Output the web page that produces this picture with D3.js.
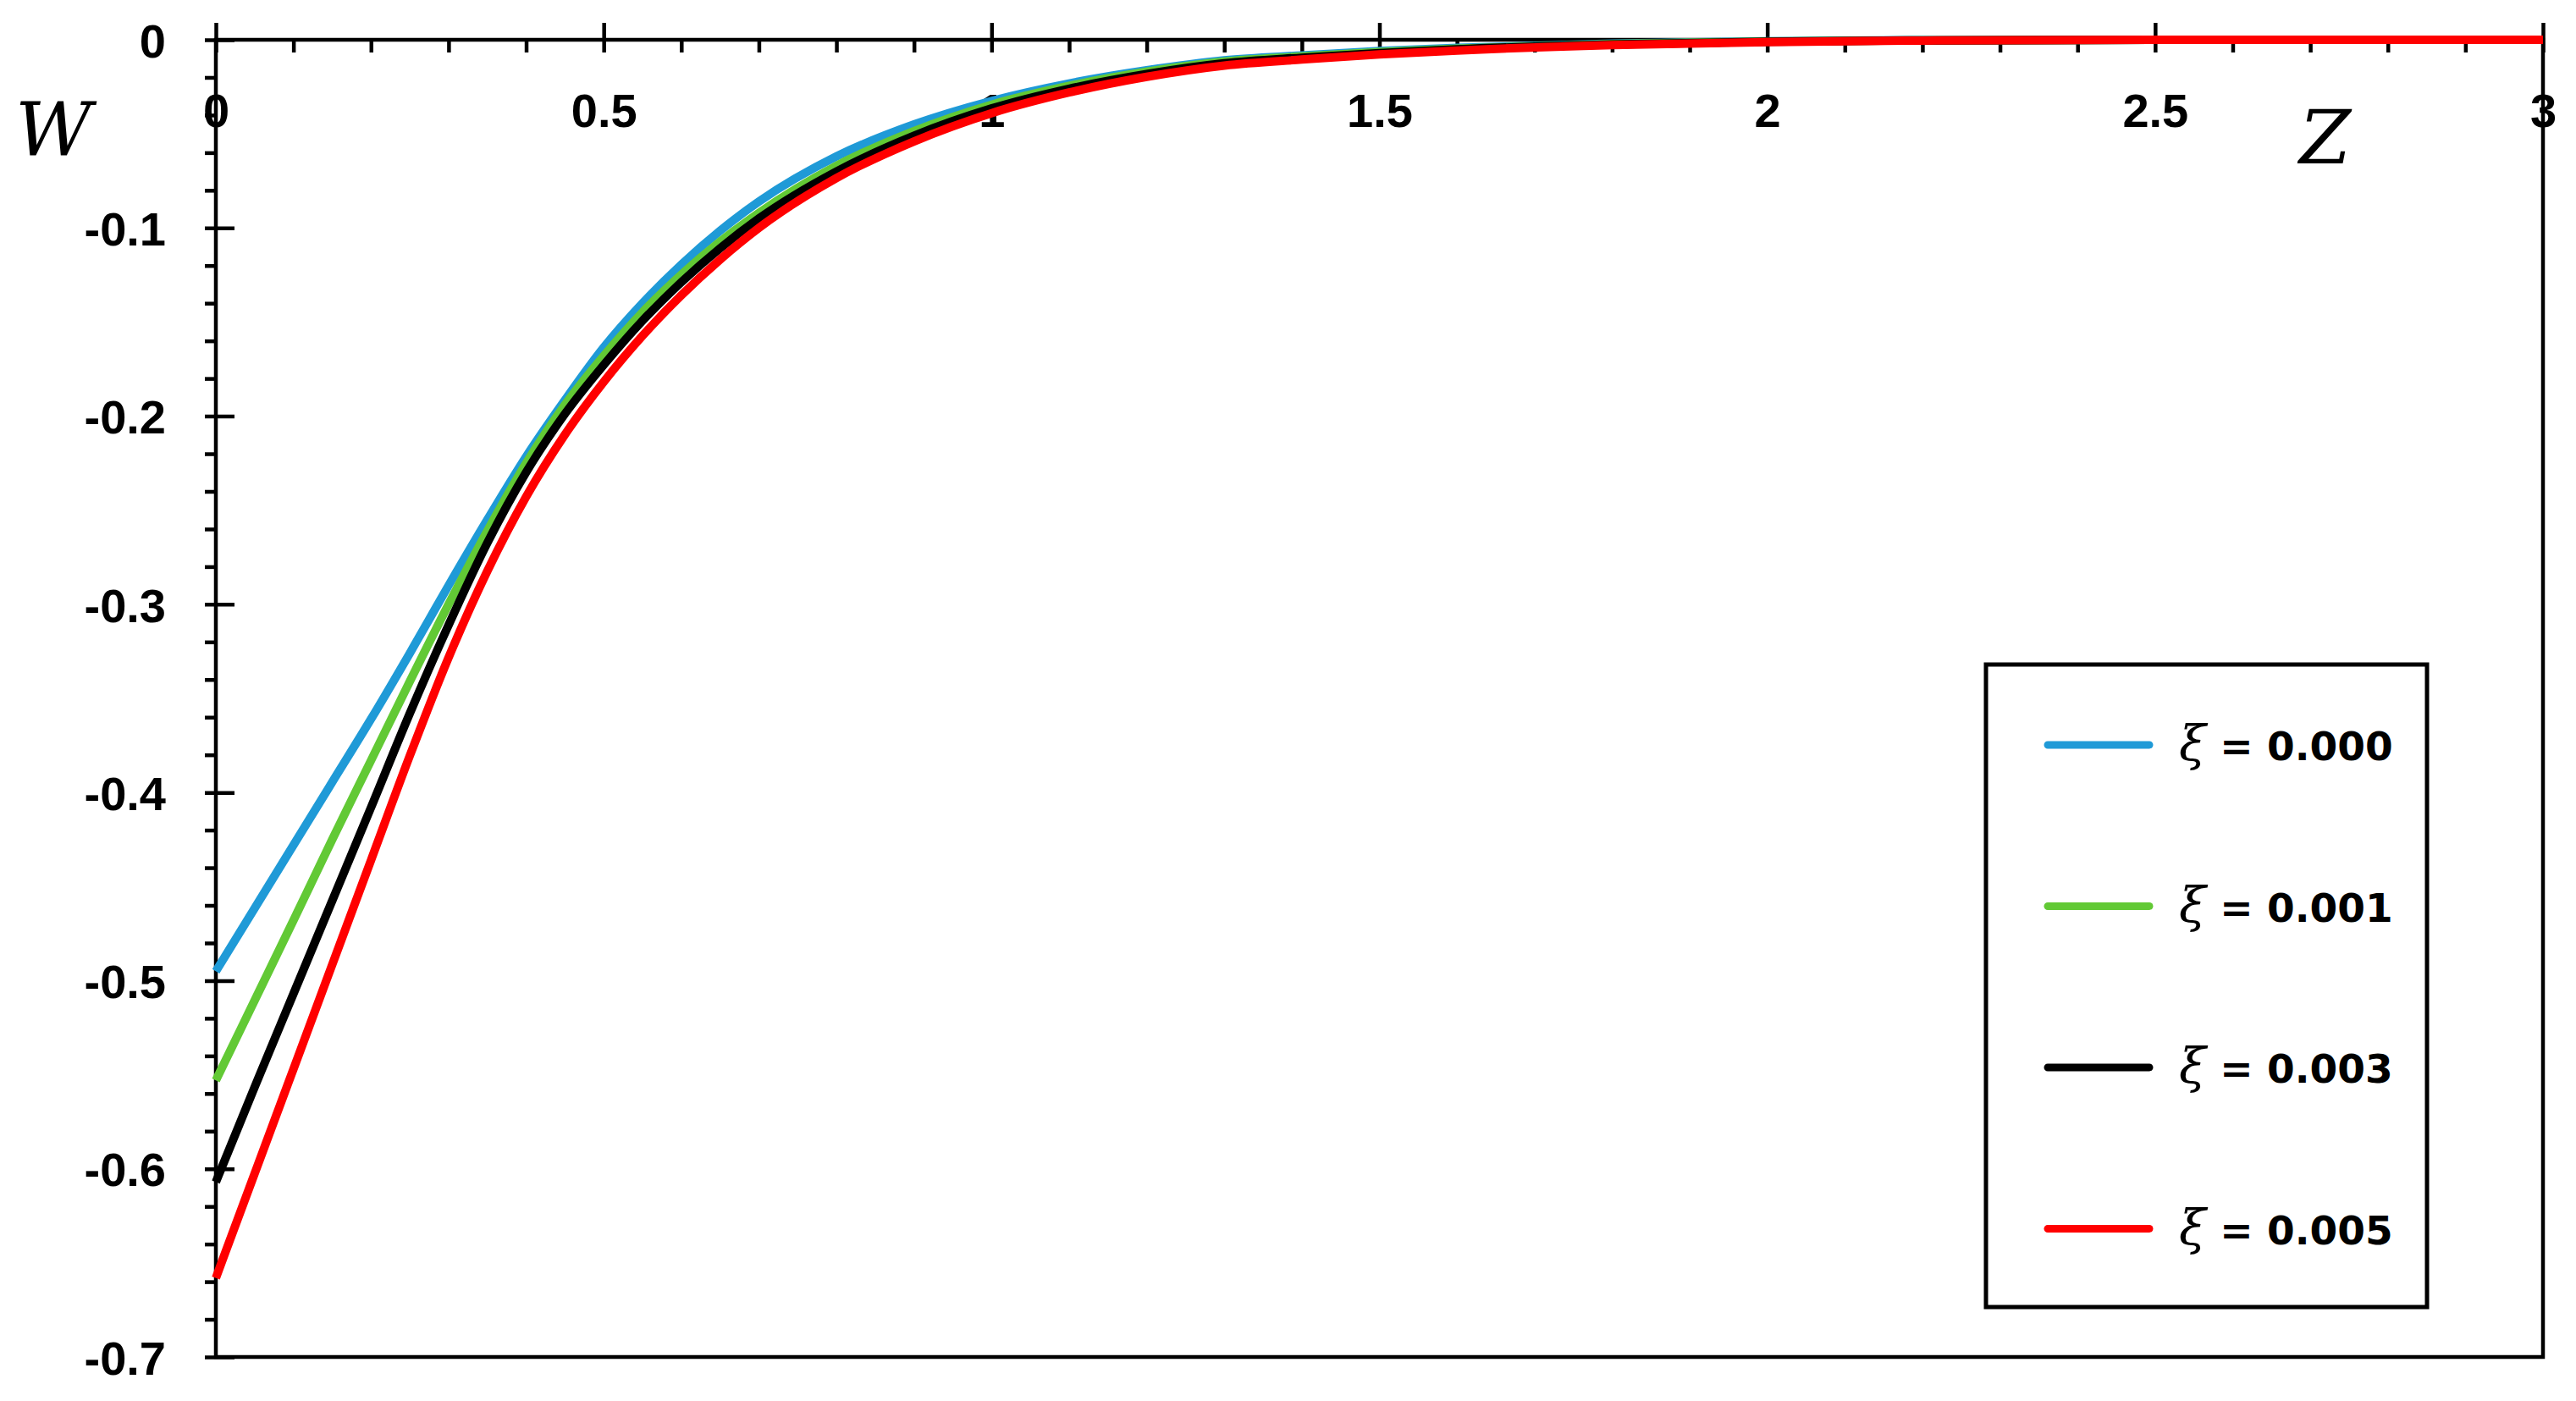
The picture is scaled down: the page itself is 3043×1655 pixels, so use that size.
<!DOCTYPE html>
<html>
<head>
<meta charset="utf-8">
<script src="https://cdn.jsdelivr.net/npm/d3@7"></script>
<style>
  html, body { margin: 0; padding: 0; background: #fff; }
  .tick-label { font-family: "Liberation Sans", Arial, sans-serif; font-weight: bold; font-size: 56px; fill: #000; }
  .axis-title { font-family: "DejaVu Serif", "Liberation Serif", serif; font-style: italic; font-size: 88px; fill: #000; }
  .legend-text { font-family: "DejaVu Sans", Verdana, sans-serif; font-weight: bold; font-size: 47px; fill: #000; }
  .legend-xi { font-family: "DejaVu Serif", "Liberation Serif", serif; font-style: italic; font-weight: normal; font-size: 58px; }
</style>
</head>
<body>
<div id="chart"></div>
<script>
// ---- data ----
var zValues = [0, 0.05, 0.1, 0.15, 0.2, 0.25, 0.3, 0.35, 0.4, 0.45, 0.5, 0.55, 0.6, 0.65, 0.7, 0.8, 0.9, 1.0, 1.1, 1.2, 1.3, 1.4, 1.5, 1.6, 1.8, 2.0, 2.2, 2.5, 3.0];
var wXi000 = [-0.495, -0.4615, -0.428, -0.3945, -0.361, -0.326, -0.290, -0.255, -0.2215, -0.1915, -0.1635, -0.140, -0.1195, -0.1015, -0.086, -0.062, -0.045, -0.0325, -0.0232, -0.0162, -0.0109, -0.0083, -0.006, -0.0043, -0.002, -0.0008, -0.0002, 0, 0];
var wXi001 = [-0.553, -0.5105, -0.468, -0.425, -0.383, -0.341, -0.300, -0.261, -0.225, -0.194, -0.168, -0.1448, -0.1248, -0.1073, -0.092, -0.067, -0.0485, -0.0345, -0.0245, -0.017, -0.0116, -0.0089, -0.0065, -0.0047, -0.0022, -0.0009, -0.0003, 0, 0];
var wXi003 = [-0.607, -0.5565, -0.507, -0.4575, -0.408, -0.358, -0.311, -0.2673, -0.2298, -0.1988, -0.1728, -0.1493, -0.1288, -0.1108, -0.095, -0.070, -0.051, -0.0365, -0.026, -0.0182, -0.0125, -0.0095, -0.0071, -0.0051, -0.0025, -0.001, -0.0003, 0, 0];
var wXi005 = [-0.658, -0.6025, -0.547, -0.4915, -0.436, -0.3805, -0.3283, -0.2823, -0.2428, -0.2098, -0.1818, -0.1573, -0.1358, -0.1168, -0.100, -0.0735, -0.054, -0.039, -0.028, -0.0197, -0.0137, -0.0105, -0.0078, -0.0057, -0.0028, -0.0012, -0.0004, 0, 0];
var seriesNames = ["0.000", "0.001", "0.003", "0.005"];
var seriesColors = ["#1f9ad7", "#62c935", "#000000", "#ff0000"];
var xMajorTicks = [0, 0.5, 1, 1.5, 2, 2.5, 3];
var xMinorTicks = [0.1, 0.2, 0.3, 0.4, 0.6, 0.7, 0.8, 0.9, 1.1, 1.2, 1.3, 1.4, 1.6, 1.7, 1.8, 1.9, 2.1, 2.2, 2.3, 2.4, 2.6, 2.7, 2.8, 2.9];
var yMajorTicks = [0, -0.1, -0.2, -0.3, -0.4, -0.5, -0.6, -0.7];
var yMinorTicks = [-0.02, -0.04, -0.06, -0.08, -0.12, -0.14, -0.16, -0.18, -0.22, -0.24, -0.26, -0.28, -0.32, -0.34, -0.36, -0.38,
    -0.42, -0.44, -0.46, -0.48, -0.52, -0.54, -0.56, -0.58, -0.62, -0.64, -0.66, -0.68];

// ---- layout ----
var W = 3043, H = 1655;
var plot = { left: 255, right: 3004, top: 47, bottom: 1603 };

var svg = d3.select("#chart").append("svg")
    .attr("width", W)
    .attr("height", H)
    .style("display", "block");
svg.append("rect").attr("width", W).attr("height", H).attr("fill", "#fff");

var x = d3.scaleLinear().domain([0, 3]).range([plot.left, plot.right]);
var y = d3.scaleLinear().domain([0, -0.7]).range([plot.top, plot.bottom]);

var series = [wXi000, wXi001, wXi003, wXi005].map(function (vals, i) {
    return {
        name: seriesNames[i],
        color: seriesColors[i],
        points: zValues.map(function (z, j) { return { z: z, w: vals[j] }; })
    };
});

// frame
svg.append("rect")
    .attr("x", plot.left).attr("y", plot.top)
    .attr("width", plot.right - plot.left)
    .attr("height", plot.bottom - plot.top)
    .attr("fill", "none")
    .attr("stroke", "#000")
    .attr("stroke-width", 4.5);

// x minor ticks (hang down into the plot)
svg.append("g")
    .attr("transform", "translate(0," + plot.top + ")")
    .call(d3.axisBottom(x).tickValues(xMinorTicks).tickSize(15).tickFormat(""))
    .call(function (g) { g.select(".domain").remove(); })
    .selectAll("line").attr("stroke", "#000").attr("stroke-width", 4.5);

// x major ticks cross the axis, labels sit below it
var xAxisG = svg.append("g")
    .attr("transform", "translate(0," + plot.top + ")")
    .call(d3.axisBottom(x).tickValues(xMajorTicks).tickSize(15).tickFormat(function (d) { return String(d); }))
    .call(function (g) { g.select(".domain").remove(); });
xAxisG.selectAll(".tick line").attr("y1", -20).attr("y2", 15).attr("stroke", "#000").attr("stroke-width", 4.5);
xAxisG.selectAll(".tick text")
    .attr("class", "tick-label")
    .attr("y", 103).attr("dy", null)
    .attr("font-family", null).attr("font-size", null);

// y minor ticks (outside, to the left)
svg.append("g")
    .attr("transform", "translate(" + plot.left + ",0)")
    .call(d3.axisLeft(y).tickValues(yMinorTicks).tickSize(13).tickFormat(""))
    .call(function (g) { g.select(".domain").remove(); })
    .selectAll("line").attr("stroke", "#000").attr("stroke-width", 4.5);

// y major ticks
var yAxisG = svg.append("g")
    .attr("transform", "translate(" + plot.left + ",0)")
    .call(d3.axisLeft(y).tickValues(yMajorTicks).tickSize(13).tickFormat(function (d) { return String(d); }))
    .call(function (g) { g.select(".domain").remove(); });
yAxisG.selectAll(".tick line").attr("x1", 22).attr("x2", -13).attr("stroke", "#000").attr("stroke-width", 4.5);
yAxisG.selectAll(".tick text")
    .attr("class", "tick-label")
    .attr("x", -59).attr("dy", "0.36em")
    .attr("font-family", null).attr("font-size", null);

// curves
var line = d3.line()
    .x(function (d) { return x(d.z); })
    .y(function (d) { return y(d.w); })
    .curve(d3.curveMonotoneX);

svg.append("g").selectAll("path")
    .data(series)
    .join("path")
    .attr("d", function (d) { return line(d.points); })
    .attr("fill", "none")
    .attr("stroke", function (d) { return d.color; })
    .attr("stroke-width", 10)
    .attr("stroke-linejoin", "round");

// axis titles
svg.append("text").attr("class", "axis-title")
    .attr("x", 18).attr("y", 184).text("W");
svg.append("text").attr("class", "axis-title")
    .attr("x", 2716).attr("y", 193).text("Z");

// legend
var legend = svg.append("g");
legend.append("rect")
    .attr("x", 2346).attr("y", 785)
    .attr("width", 521).attr("height", 759)
    .attr("fill", "#fff")
    .attr("stroke", "#000")
    .attr("stroke-width", 5);

var rows = legend.selectAll(".legend-row")
    .data(series)
    .join("g")
    .attr("class", "legend-row")
    .attr("transform", function (d, i) { return "translate(0," + (880 + i * 190.5) + ")"; });

rows.append("line")
    .attr("x1", 2419).attr("x2", 2539)
    .attr("y1", 0).attr("y2", 0)
    .attr("stroke", function (d) { return d.color; })
    .attr("stroke-width", 9)
    .attr("stroke-linecap", "round");

var label = rows.append("text")
    .attr("class", "legend-text")
    .attr("x", 2574).attr("y", 18);
label.append("tspan").attr("class", "legend-xi").text("ξ");
label.append("tspan").text(function (d) { return " = " + d.name; });
</script>
</body>
</html>
